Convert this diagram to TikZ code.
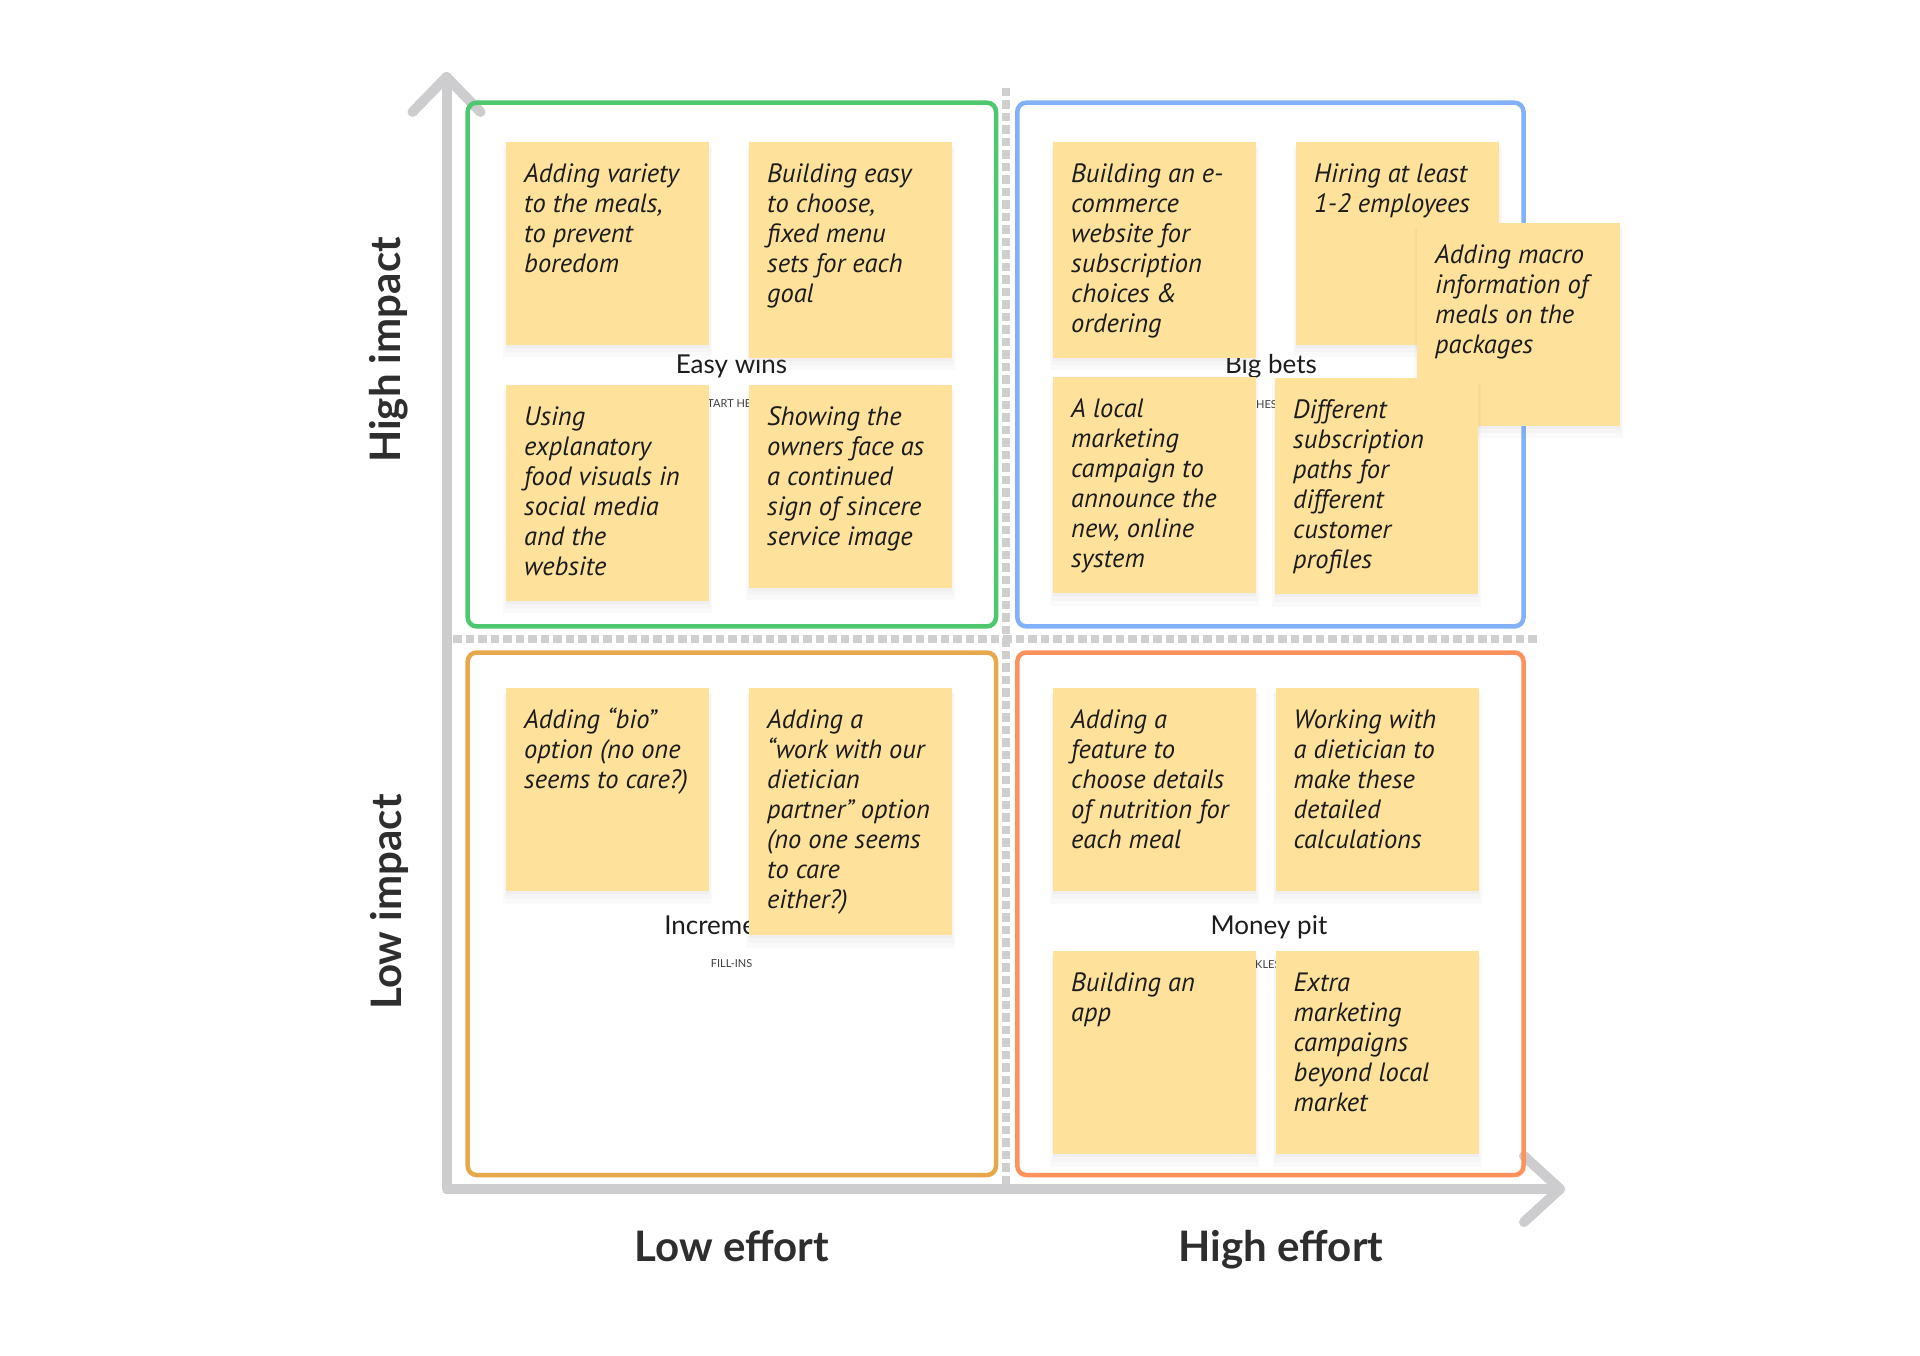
\documentclass[tikz,border=0pt]{standalone}
\usepackage{fontspec}
\usepackage{tikz}
\usetikzlibrary{shadows}
\newfontfamily\notefont{PT Sans}
\newfontfamily\labelfont{Lato}
\definecolor{axisgray}{HTML}{CDCCCE}
\definecolor{dashgray}{HTML}{CFCFCF}
\definecolor{easygreen}{HTML}{4DC86E}
\definecolor{betblue}{HTML}{82B1F7}
\definecolor{incrorange}{HTML}{E6A84B}
\definecolor{pitorange}{HTML}{FF925C}
\definecolor{stickyyellow}{HTML}{FEE29B}
\definecolor{inkblack}{HTML}{1C1C1C}

\begin{document}
\begin{tikzpicture}[x=10pt,y=10pt,
  axis/.style={axisgray, line width=10pt, line cap=round, line join=round},
  divider/.style={dashgray, line width=8pt, dash pattern=on 8.5pt off 4pt},
  quadrant/.style={line width=4.5pt, rounded corners=9pt},
  sticky/.style={fill=stickyyellow, anchor=north west, minimum width=203pt, minimum height=203pt,
    drop shadow={opacity=0.035, shadow xshift=0pt, shadow yshift=-9pt, shadow scale=1.03},
    drop shadow={opacity=0.04, shadow xshift=0pt, shadow yshift=-6pt, shadow scale=1.015},
    drop shadow={opacity=0.05, shadow xshift=0pt, shadow yshift=-3pt}},
  tall/.style={minimum height=216pt},
  stickytext/.style={anchor=north west, xshift=18pt, yshift=-19.5pt, align=left, text=inkblack,
    font=\notefont\itshape\fontsize{26.5}{30}\selectfont},
  title/.style={anchor=base, text=inkblack, font=\labelfont\fontsize{26}{30}\selectfont},
  subtitle/.style={anchor=base, text=inkblack!85, font=\labelfont\fontsize{11}{13}\selectfont},
  axislabel/.style={text=inkblack!92, font=\labelfont\bfseries\fontsize{42}{48}\selectfont}]
\tikzstyle{every node}+=[inner sep=0pt]
\fill [white] (0,0) rectangle (192,-135.6);
\useasboundingbox (0,0) rectangle (192,-135.6);
% axes
\coordinate (ytip) at (44.65,-7.7);
\coordinate (origin) at (44.65,-118.9);
\coordinate (xtip) at (156,-118.9);
\draw [axis] (ytip) -- (origin) -- (xtip);
\draw [axis] (ytip) ++(-3.4,-3.5) -- (ytip) -- ++(3.4,-3.5);
\draw [axis] (xtip) ++(-3.6,3.3) -- (xtip) -- ++(-3.6,-3.3);
% dividers
\coordinate (vtop) at (100.6,-8.8);
\coordinate (vbot) at (100.6,-118.6);
\coordinate (hleft) at (45.3,-63.93);
\coordinate (hright) at (153.9,-63.93);
\draw [divider] (vtop) -- (vbot);
\draw [divider] (hleft) -- (hright);
% quadrants
\draw [quadrant, easygreen] (46.77,-10.27) rectangle (99.6,-62.64);
\draw [quadrant, betblue] (101.73,-10.27) rectangle (152.35,-62.64);
\draw [quadrant, incrorange] (46.77,-65.25) rectangle (99.6,-117.5);
\draw [quadrant, pitorange] (101.73,-65.25) rectangle (152.35,-117.5);
\node [title] (easy) at (73.15,-37.4) {Easy wins};
\node [title] (big) at (127.1,-37.4) {Big bets};
\node [title] (incr) at (73.15,-93.4) {Incremental};
\node [title] (pit) at (126.9,-93.4) {Money pit};
\node [subtitle] (easysub) at (73.3,-40.7) {START HERE};
\node [subtitle, anchor=base west] (bigsub) at (125.6,-40.8) {HES};
\node [subtitle] (incrsub) at (73.16,-96.7) {FILL-INS};
\node [subtitle, anchor=base west] (pitsub) at (125.5,-96.8) {KLES};
% easy wins
\node [sticky] (a1) at (50.6,-14.15) {};
\node [stickytext] (a1text) at (a1.north west) {\strut Adding variety\\to the meals,\\to prevent\\boredom};
\node [sticky, tall] (a2) at (74.9,-14.15) {};
\node [stickytext] (a2text) at (a2.north west) {\strut Building easy\\to choose,\\fixed menu\\sets for each\\goal};
\node [sticky, tall] (a3) at (50.6,-38.45) {};
\node [stickytext] (a3text) at (a3.north west) {\strut Using\\explanatory\\food visuals in\\social media\\and the\\website};
\node [sticky] (a4) at (74.9,-38.45) {};
\node [stickytext] (a4text) at (a4.north west) {\strut Showing the\\owners face as\\a continued\\sign of sincere\\service image};
% big bets
\node [sticky, tall] (b1) at (105.3,-14.15) {};
\node [stickytext] (b1text) at (b1.north west) {\strut Building an e-\\commerce\\website for\\subscription\\choices \&\\ordering};
\node [sticky] (b2) at (129.6,-14.15) {};
\node [stickytext] (b2text) at (b2.north west) {\strut Hiring at least\\1-2 employees};
\node [sticky] (b5) at (141.7,-22.26) {};
\node [stickytext] (b5text) at (b5.north west) {\strut Adding macro\\information of\\meals on the\\packages};
\node [sticky, tall] (b3) at (105.3,-37.7) {};
\node [stickytext] (b3text) at (b3.north west) {\strut A local\\marketing\\campaign to\\announce the\\new, online\\system};
\node [sticky, tall] (b4) at (127.5,-37.8) {};
\node [stickytext] (b4text) at (b4.north west) {\strut Different\\subscription\\paths for\\different\\customer\\profiles};
% incremental
\node [sticky] (c1) at (50.6,-68.8) {};
\node [stickytext] (c1text) at (c1.north west) {\strut Adding “bio”\\option (no one\\seems to care?)};
\node [sticky, minimum height=247pt] (c2) at (74.9,-68.8) {};
\node [stickytext] (c2text) at (c2.north west) {\strut Adding a\\“work with our\\dietician\\partner” option\\(no one seems\\to care\\either?)};
% money pit
\node [sticky] (d1) at (105.3,-68.8) {};
\node [stickytext] (d1text) at (d1.north west) {\strut Adding a\\feature to\\choose details\\of nutrition for\\each meal};
\node [sticky] (d2) at (127.55,-68.8) {};
\node [stickytext] (d2text) at (d2.north west) {\strut Working with\\a dietician to\\make these\\detailed\\calculations};
\node [sticky] (d3) at (105.3,-95.1) {};
\node [stickytext] (d3text) at (d3.north west) {\strut Building an\\app};
\node [sticky] (d4) at (127.55,-95.1) {};
\node [stickytext] (d4text) at (d4.north west) {\strut Extra\\marketing\\campaigns\\beyond local\\market};
% axis labels
\node [axislabel, rotate=90] (highimp) at (38.9,-35) {High impact};
\node [axislabel, rotate=90] (lowimp) at (38.9,-90.2) {Low impact};
\node [axislabel, anchor=base] (loweff) at (73.2,-126.1) {Low effort};
\node [axislabel, anchor=base] (higheff) at (128.1,-126.1) {High effort};
\end{tikzpicture}
\end{document}
